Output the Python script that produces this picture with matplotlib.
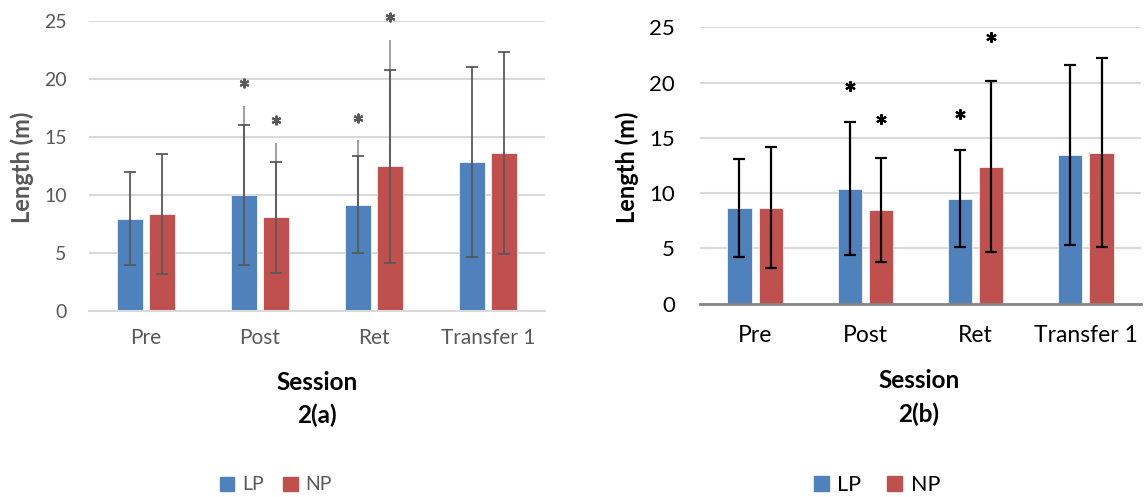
import matplotlib
matplotlib.use("Agg")
import matplotlib.pyplot as plt
import numpy as np
from matplotlib.patches import Patch

plt.rcParams['font.family'] = ['Lato', 'DejaVu Sans']

categories = ["Pre", "Post", "Ret", "Transfer 1"]
series = ["LP", "NP"]

# Panel 2(a)
a_lp = [8.0, 10.05, 9.2, 12.9]
a_np = [8.4, 8.1, 12.5, 13.65]
a_lp_sd = [4.05, 6.05, 4.15, 8.2]
a_np_sd = [5.15, 4.8, 8.3, 8.7]
a_lp_ext = [None, 17.7, 14.8, None]     # light grey upper extension
a_np_ext = [None, 14.5, 23.4, None]
a_lp_star = [None, 19.65, 16.7, None]
a_np_star = [None, 16.5, 25.4, None]

# Panel 2(b)
b_lp = [8.65, 10.4, 9.5, 13.45]
b_np = [8.7, 8.5, 12.4, 13.65]
b_lp_sd = [4.45, 6.0, 4.4, 8.1]
b_np_sd = [5.5, 4.7, 7.7, 8.55]
b_lp_star = [None, 19.7, 17.2, None]
b_np_star = [None, 16.7, 24.15, None]

BLUE = "#4f81bd"
RED = "#c0504d"
W, H = 1145, 497
fig = plt.figure(figsize=(W / 100, H / 100), dpi=100)


def px_axes(x0, x1, ytop, ybot):
    return fig.add_axes([x0 / W, (H - ybot) / H, (x1 - x0) / W, (ybot - ytop) / H])


def panel(ax, lp, np_, lp_sd, np_sd, lp_star, np_star, lp_ext, np_ext, txtcol,
          tick_fs, cat_fs, errcol, errlw, spinecol, spinelw, starms, capsize,
          ypad, xpad, bw, off):
    x = np.arange(len(categories))
    ax.bar(x - off, lp, bw, color=BLUE, edgecolor="#ffffff", linewidth=0.5, zorder=2)
    ax.bar(x + off, np_, bw, color=RED, edgecolor="#ffffff", linewidth=0.5, zorder=2)
    for xs, vals, ext in ((x - off, lp, lp_ext), (x + off, np_, np_ext)):
        if ext is None:
            continue
        for xi, v, e in zip(xs, vals, ext):
            if e is not None:
                ax.errorbar([xi], [v], yerr=[[0], [e - v]], fmt="none",
                            ecolor="#a3a3a3", elinewidth=1.5, capsize=0, zorder=3)
    ax.errorbar(x - off, lp, yerr=lp_sd, fmt="none", ecolor=errcol,
                elinewidth=errlw, capsize=capsize, capthick=errlw, zorder=4)
    ax.errorbar(x + off, np_, yerr=np_sd, fmt="none", ecolor=errcol,
                elinewidth=errlw, capsize=capsize, capthick=errlw, zorder=4)
    for xs, stars in ((x - off, lp_star), (x + off, np_star)):
        for xi, s in zip(xs, stars):
            if s is not None:
                ax.plot([xi], [s], linestyle="none", marker=(6, 2, 0), ms=starms,
                        mew=1.5, color=errcol, clip_on=False, zorder=5)
    ax.set_xlim(-0.5, len(categories) - 0.5)
    ax.set_ylim(0, 25)
    ax.set_yticks([0, 5, 10, 15, 20, 25])
    ax.yaxis.grid(True, color="#d9d9d9", linewidth=1.5, zorder=0)
    ax.set_axisbelow(True)
    for s in ("top", "right", "left"):
        ax.spines[s].set_visible(False)
    ax.spines["bottom"].set_color(spinecol)
    ax.spines["bottom"].set_linewidth(spinelw)
    ax.set_xticks(x)
    ax.set_xticklabels(categories)
    ax.tick_params(axis="both", length=0)
    ax.tick_params(axis="y", labelsize=tick_fs, labelcolor=txtcol, pad=ypad)
    ax.tick_params(axis="x", labelsize=cat_fs, labelcolor=txtcol, pad=xpad)


# left panel
axL = px_axes(89, 545, 21.3, 311.3)
panel(axL, a_lp, a_np, a_lp_sd, a_np_sd, a_lp_star, a_np_star, a_lp_ext, a_np_ext,
      "#595959", 14, 15, "#595959", 1.3, "#d9d9d9", 1.5, 7, 4,
      16, 12, 0.228, 0.143)

# right panel
axR = px_axes(700, 1141, 27.3, 303.7)
panel(axR, b_lp, b_np, b_lp_sd, b_np_sd, b_lp_star, b_np_star, None, None,
      "black", 16, 16.5, "black", 1.6, "#868686", 2.0, 7.5, 4.5,
      18, 15, 0.221, 0.142)

# y titles
fig.text(22 / W, 1 - 167 / H, "Length (m)", rotation=90, ha="center", va="center",
         fontsize=17, fontweight="bold", color="#595959")
fig.text(627 / W, 1 - 167 / H, "Length (m)", rotation=90, ha="center", va="center",
         fontsize=17, fontweight="bold", color="black")

# x titles
for cx, cy1, cy2, lab in ((317, 382, 415, "2(a)"), (919, 380, 414, "2(b)")):
    fig.text(cx / W, 1 - cy1 / H, "Session", ha="center", va="center",
             fontsize=17.5, fontweight="bold", color="black")
    fig.text(cx / W, 1 - cy2 / H, lab, ha="center", va="center",
             fontsize=17.5, fontweight="bold", color="black")

# legends
handles = [Patch(color=BLUE), Patch(color=RED)]
fig.legend(handles, series, loc="center", bbox_to_anchor=(276 / W, 1 - 485 / H),
           ncol=2, frameon=False, fontsize=14, labelcolor="#595959",
           handlelength=0.75, handleheight=0.75, handletextpad=0.4,
           columnspacing=1.0, borderpad=0)
fig.legend(handles, series, loc="center", bbox_to_anchor=(877 / W, 1 - 485 / H),
           ncol=2, frameon=False, fontsize=15.5, labelcolor="black",
           handlelength=0.7, handleheight=0.7, handletextpad=0.4,
           columnspacing=1.2, borderpad=0)

fig.savefig("out.png", dpi=100)
